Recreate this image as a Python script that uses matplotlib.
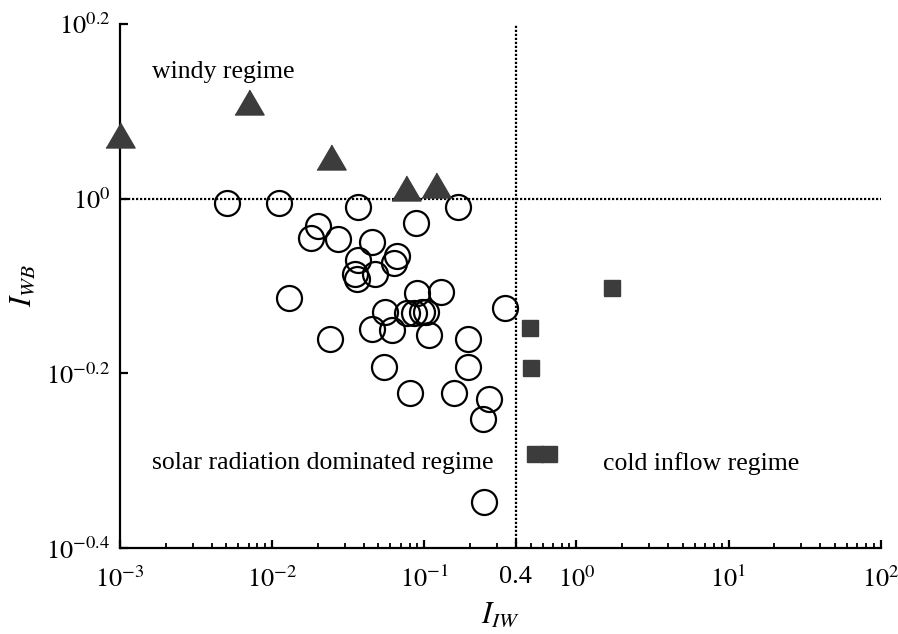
import matplotlib
matplotlib.use('Agg')
import matplotlib.pyplot as plt
import numpy as np

plt.rcParams['font.family'] = ['Liberation Serif', 'DejaVu Serif']
plt.rcParams['mathtext.fontset'] = 'stix'

# solar radiation dominated cases (open circles)
solar_x = [0.00504, 0.0111, 0.0368, 0.1668, 0.0885, 0.0201, 0.0181, 0.0272,
           0.0453, 0.0664, 0.0629, 0.0368, 0.0477, 0.0352, 0.0362, 0.01294,
           0.0893, 0.1294, 0.337, 0.0553, 0.0769, 0.0851, 0.0966, 0.103,
           0.0453, 0.0614, 0.1072, 0.0241, 0.193, 0.0540, 0.193, 0.0809,
           0.157, 0.265, 0.243, 0.2455]
solar_y = [0.9895, 0.990, 0.979, 0.979, 0.938, 0.930, 0.901, 0.899,
           0.891, 0.860, 0.845, 0.851, 0.820, 0.821, 0.810, 0.770,
           0.780, 0.781, 0.750, 0.741, 0.739, 0.739, 0.742, 0.741,
           0.710, 0.707, 0.699, 0.690, 0.691, 0.641, 0.641, 0.5995,
           0.5995, 0.590, 0.559, 0.449]

# windy cases (filled triangles)
windy_x = [0.001, 0.00707, 0.0244, 0.0762, 0.120]
windy_y = [1.183, 1.291, 1.116, 1.029, 1.037]

# cold inflow cases (filled squares)
cold_x = [1.726, 0.498, 0.503, 0.537, 0.664]
cold_y = [0.790, 0.711, 0.640, 0.510, 0.510]

x_ticks = [1e-3, 1e-2, 1e-1, 0.4, 1e0, 1e1, 1e2]
x_ticklabels = ['$10^{-3}$', '$10^{-2}$', '$10^{-1}$', '0.4', '$10^{0}$', '$10^{1}$', '$10^{2}$']
y_ticks = [10**0.2, 10**0, 10**-0.2, 10**-0.4]
y_ticklabels = ['$10^{0.2}$', '$10^{0}$', '$10^{-0.2}$', '$10^{-0.4}$']

fig = plt.figure(figsize=(8.98, 6.34), dpi=100)
ax = fig.add_axes([0.1336, 0.1356, 0.8471, 0.8265])

ax.set_xscale('log')
ax.set_yscale('log')
ax.set_xlim(1e-3, 1e2)
ax.set_ylim(10**-0.4, 10**0.2)

# regime boundaries
ax.axhline(1.0, color='black', lw=1.6, ls=(0, (1, 0.8)), zorder=1)
ax.axvline(0.4, color='black', lw=1.6, ls=(0, (1, 0.8)), zorder=1)

tri = [(-1, -0.857), (1, -0.857), (0, 0.857)]
ax.plot(solar_x, solar_y, 'o', ms=18, mfc='none', mec='black', mew=1.6,
        ls='none', zorder=3)
ax.plot(windy_x, windy_y, marker=tri, ms=21, color='#3c3c3c', ls='none',
        clip_on=False, zorder=4)
ax.plot(cold_x, cold_y, 's', ms=11.5, color='#3c3c3c', ls='none', zorder=4)

ax.text(0.001625, 1.397, 'windy regime', fontsize=18.5, va='center', ha='left')
ax.text(0.001625, 0.498, 'solar radiation dominated regime', fontsize=18.5,
        va='center', ha='left')
ax.text(1.507, 0.498, 'cold inflow regime', fontsize=18.5, va='center', ha='left')

for side in ['top', 'right']:
    ax.spines[side].set_visible(False)
for side in ['left', 'bottom']:
    ax.spines[side].set_linewidth(1.6)

ax.set_xticks(x_ticks)
ax.set_xticklabels(x_ticklabels)
ax.xaxis.set_minor_locator(matplotlib.ticker.LogLocator(base=10, subs=np.arange(2, 10)))
ax.xaxis.set_minor_formatter(matplotlib.ticker.NullFormatter())
ax.set_yticks(y_ticks)
ax.set_yticklabels(y_ticklabels)
ax.yaxis.set_minor_locator(matplotlib.ticker.NullLocator())

ax.tick_params(axis='both', which='major', direction='in', length=6, width=1.6,
               labelsize=19)
ax.tick_params(axis='x', which='major', pad=13)
ax.tick_params(axis='y', which='major', pad=7)
ax.tick_params(axis='x', which='minor', direction='in', length=3.5, width=1.3)

ax.set_xlabel('$I_{IW}$', fontsize=22, labelpad=6)
ax.set_ylabel('$I_{WB}$', fontsize=22, labelpad=6)

plt.savefig('out.png', dpi=100)
